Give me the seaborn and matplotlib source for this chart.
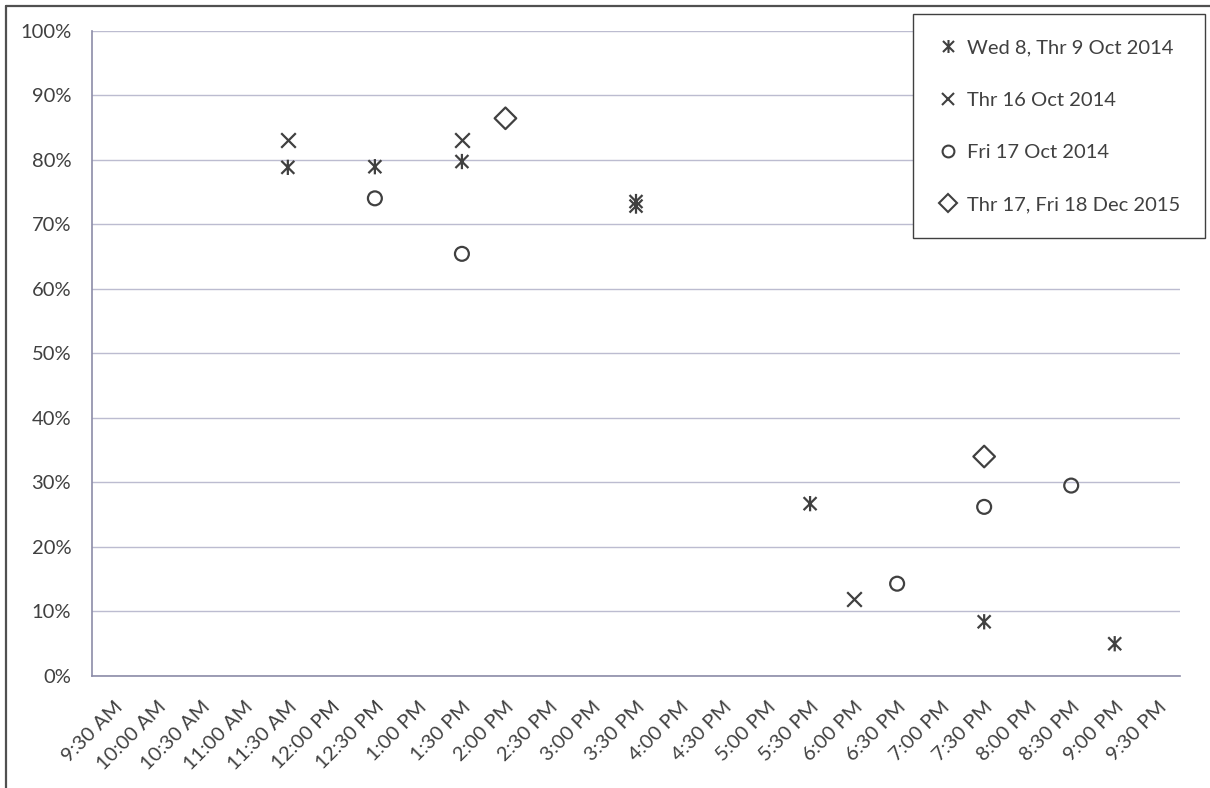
import numpy as np
import matplotlib.pyplot as plt
import seaborn as sns
from matplotlib.path import Path
from matplotlib.lines import Line2D
from matplotlib.ticker import FixedLocator, FixedFormatter, NullFormatter, PercentFormatter

# =========================
# DATA
# =========================
time_labels = [
    "9:30 AM", "10:00 AM", "10:30 AM", "11:00 AM", "11:30 AM", "12:00 PM",
    "12:30 PM", "1:00 PM", "1:30 PM", "2:00 PM", "2:30 PM", "3:00 PM",
    "3:30 PM", "4:00 PM", "4:30 PM", "5:00 PM", "5:30 PM", "6:00 PM",
    "6:30 PM", "7:00 PM", "7:30 PM", "8:00 PM", "8:30 PM", "9:00 PM",
    "9:30 PM",
]

series_names = [
    "Wed 8, Thr 9 Oct 2014",
    "Thr 16 Oct 2014",
    "Fri 17 Oct 2014",
    "Thr 17, Fri 18 Dec 2015",
]

oct08_times = ["11:30 AM", "12:30 PM", "1:30 PM", "3:30 PM", "3:30 PM", "5:30 PM", "7:30 PM", "9:00 PM"]
oct08_pct = [78.8, 78.9, 79.7, 73.5, 72.8, 26.7, 8.4, 5.0]

oct16_times = ["11:30 AM", "1:30 PM", "6:00 PM"]
oct16_pct = [83.0, 83.0, 11.9]

oct17_times = ["12:30 PM", "1:30 PM", "6:30 PM", "7:30 PM", "8:30 PM"]
oct17_pct = [74.0, 65.4, 14.3, 26.2, 29.5]

dec15_times = ["2:00 PM", "7:30 PM"]
dec15_pct = [86.4, 34.0]

# =========================
# STYLE
# =========================
W, H = 1210, 788
INK = "#404040"
GRID = "#bcbcd0"
AXIS = "#8c8ca8"
FS = 14.5

# excel style asterisk: vertical bar + cross
ASTERISK = Path(
    [(0, -1), (0, 1), (-0.85, -0.85), (0.85, 0.85), (-0.85, 0.85), (0.85, -0.85)],
    [Path.MOVETO, Path.LINETO] * 3,
)

# marker, size (pt), hollow
styles = [
    (ASTERISK, 11, True),
    ("x", 10.5, False),
    ("o", 10, True),
    ("D", 11, True),
]
series = [
    (oct08_times, oct08_pct),
    (oct16_times, oct16_pct),
    (oct17_times, oct17_pct),
    (dec15_times, dec15_pct),
]

sns.set_style("white")
plt.rcParams["font.family"] = ["Lato", "DejaVu Sans"]

fig = plt.figure(figsize=(W / 100, H / 100), dpi=100)
ax = fig.add_axes([92 / W, 1 - 676 / H, (1180 - 92) / W, (676 - 30.5) / H])

# =========================
# POINTS
# =========================
for (times, pct), (marker, size, hollow) in zip(series, styles):
    kws = dict(marker=marker, size=size, linewidth=1.6, color=INK)
    if hollow:
        kws.update(facecolor="none", edgecolor=INK)
    sns.stripplot(x=times, y=pct, order=time_labels, jitter=False, ax=ax, **kws)

# =========================
# AXES
# =========================
n = len(time_labels)
ax.set_xlim(-0.5, n - 0.5)
ax.set_ylim(0, 100)

ax.xaxis.set_major_locator(FixedLocator(np.arange(n + 1) - 0.5))
ax.xaxis.set_major_formatter(NullFormatter())
ax.xaxis.set_minor_locator(FixedLocator(np.arange(n)))
ax.xaxis.set_minor_formatter(FixedFormatter(time_labels))
ax.tick_params(axis="x", which="major", length=5, width=1, color=AXIS, direction="out")
ax.tick_params(axis="x", which="minor", length=0, pad=16, labelsize=FS,
               labelcolor=INK, labelrotation=45)
plt.setp(ax.get_xticklabels(minor=True), ha="right", rotation_mode="anchor")

ax.yaxis.set_major_locator(FixedLocator(np.arange(0, 101, 10)))
ax.yaxis.set_major_formatter(PercentFormatter(100, decimals=0))
ax.tick_params(axis="y", length=6, width=1, color=AXIS, direction="out", pad=9,
               labelsize=FS, labelcolor=INK)
ax.yaxis.grid(True, color=GRID, linewidth=1)
ax.xaxis.grid(False)
ax.set_axisbelow(True)
ax.set_xlabel("")
ax.set_ylabel("")

for side in ["top", "right"]:
    ax.spines[side].set_visible(False)
for side in ["left", "bottom"]:
    ax.spines[side].set_color(AXIS)
    ax.spines[side].set_linewidth(1.2)

# =========================
# LEGEND
# =========================
handles = [
    Line2D([], [], linestyle="none", marker=m, markersize=s * 0.85,
           markerfacecolor="none" if hollow else INK, markeredgecolor=INK,
           markeredgewidth=1.5)
    for m, s, hollow in styles
]
leg = fig.legend(handles, series_names, loc="upper right",
                 bbox_to_anchor=(1205 / W, 1 - 14 / H), borderaxespad=0,
                 frameon=True, fancybox=False, edgecolor=INK, framealpha=1,
                 fontsize=FS, labelcolor=INK, borderpad=1.25, labelspacing=1.75,
                 handlelength=1.0, handletextpad=0.4)
leg.get_frame().set_linewidth(1.0)

# chart frame (left and top edges visible in the source)
fig.add_artist(Line2D([6 / W, 6 / W], [0, 1 - 6 / H], color="#505050", linewidth=1.6))
fig.add_artist(Line2D([6 / W, 1], [1 - 6 / H, 1 - 6 / H], color="#505050", linewidth=1.6))

fig.savefig("out.png", dpi=100)
plt.close(fig)
